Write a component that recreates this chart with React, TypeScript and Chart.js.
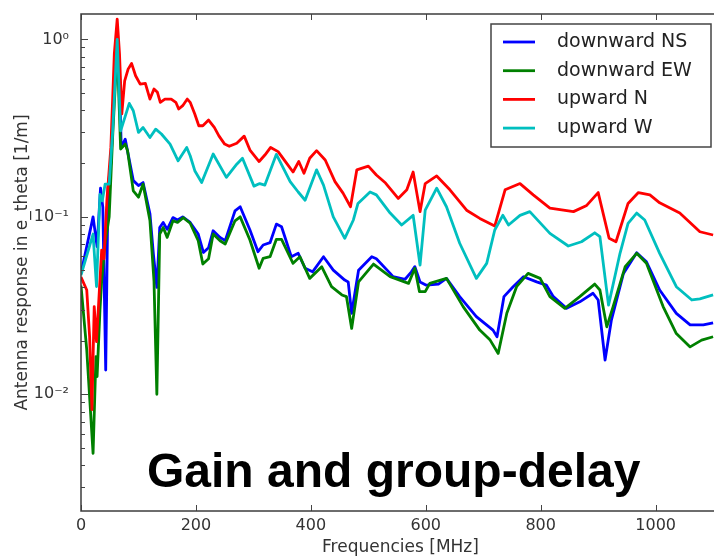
import { useEffect, useRef } from 'react';
import { Chart, registerables } from 'chart.js';

Chart.register(...registerables);

// ---------- data (frequency in MHz, response in 1/m) ----------
const nsFreq = [0, 21, 28, 34, 38, 43, 47, 52, 57, 63, 67, 70, 77, 82, 91, 100, 108, 120, 126, 132, 137, 143, 150, 160, 168, 177, 190, 204, 213, 222, 230, 242, 251, 268, 277, 294, 308, 317, 329, 340, 349, 366, 378, 390, 403, 422, 439, 459, 465, 471, 483, 506, 514, 538, 543, 564, 575, 581, 590, 601, 622, 636, 659, 688, 717, 724, 736, 752, 770, 793, 810, 822, 845, 868, 891, 900, 912, 923, 944, 967, 984, 1007, 1036, 1060, 1083, 1100];
const nsVal = [0.048, 0.1, 0.068, 0.145, 0.113, 0.0137, 0.146, 0.2, 0.45, 0.94, 0.6, 0.246, 0.274, 0.226, 0.16, 0.15, 0.156, 0.104, 0.0617, 0.04, 0.087, 0.093, 0.085, 0.099, 0.096, 0.1, 0.093, 0.08, 0.063, 0.067, 0.0835, 0.0766, 0.0735, 0.108, 0.114, 0.0843, 0.0636, 0.0694, 0.0715, 0.091, 0.088, 0.0596, 0.0623, 0.0513, 0.049, 0.0596, 0.0501, 0.044, 0.043, 0.0286, 0.05, 0.0596, 0.058, 0.048, 0.046, 0.0445, 0.049, 0.0524, 0.043, 0.0412, 0.0418, 0.045, 0.0355, 0.0274, 0.023, 0.0211, 0.0355, 0.0404, 0.046, 0.043, 0.0412, 0.0355, 0.0305, 0.0332, 0.0371, 0.034, 0.0156, 0.0262, 0.048, 0.0628, 0.0558, 0.0387, 0.0286, 0.0246, 0.0246, 0.0253];

const ewFreq = [0, 10, 21, 26, 28, 33, 36, 42, 49, 55, 63, 69, 77, 81, 91, 100, 108, 120, 127, 132, 137, 143, 150, 160, 168, 178, 190, 204, 212, 222, 230, 242, 251, 268, 277, 294, 310, 317, 329, 340, 349, 369, 381, 398, 419, 436, 454, 462, 471, 483, 509, 538, 570, 581, 589, 599, 607, 636, 665, 694, 712, 726, 741, 758, 778, 799, 816, 842, 868, 894, 903, 915, 926, 947, 967, 984, 1013, 1036, 1060, 1080, 1100];
const ewVal = [0.041, 0.0178, 0.00465, 0.0163, 0.0126, 0.0298, 0.0437, 0.071, 0.1, 0.28, 0.9, 0.241, 0.257, 0.236, 0.14, 0.129, 0.153, 0.095, 0.0436, 0.01, 0.08, 0.087, 0.0766, 0.095, 0.093, 0.099, 0.092, 0.0733, 0.0542, 0.058, 0.08, 0.0733, 0.0703, 0.095, 0.1, 0.074, 0.0513, 0.0584, 0.0596, 0.0747, 0.0747, 0.0547, 0.0596, 0.045, 0.0523, 0.0404, 0.0363, 0.0355, 0.0235, 0.043, 0.0542, 0.046, 0.0422, 0.0513, 0.0379, 0.0379, 0.0422, 0.045, 0.0312, 0.023, 0.0202, 0.017, 0.0286, 0.0404, 0.048, 0.045, 0.0355, 0.0305, 0.0355, 0.0418, 0.0387, 0.024, 0.0312, 0.0524, 0.0623, 0.0547, 0.0312, 0.022, 0.0185, 0.0202, 0.0211];

const nFreq = [0, 10, 15, 19, 23, 27, 32, 36, 40, 45, 52, 58, 63, 67, 71, 76, 82, 88, 95, 103, 112, 120, 127, 133, 138, 146, 157, 165, 170, 177, 185, 190, 198, 205, 212, 222, 232, 240, 250, 258, 271, 284, 294, 310, 320, 330, 343, 358, 369, 379, 388, 398, 410, 425, 442, 456, 469, 480, 500, 514, 530, 552, 567, 578, 590, 599, 619, 642, 671, 694, 720, 738, 764, 787, 816, 857, 880, 900, 919, 931, 952, 970, 990, 1007, 1042, 1077, 1100];
const nVal = [0.0458, 0.0387, 0.0211, 0.0082, 0.0312, 0.0198, 0.0387, 0.065, 0.058, 0.123, 0.247, 0.83, 1.3, 0.83, 0.38, 0.584, 0.68, 0.732, 0.624, 0.56, 0.565, 0.461, 0.525, 0.503, 0.442, 0.461, 0.461, 0.442, 0.405, 0.423, 0.461, 0.442, 0.38, 0.326, 0.326, 0.351, 0.319, 0.286, 0.257, 0.25, 0.26, 0.285, 0.238, 0.205, 0.223, 0.246, 0.233, 0.2, 0.179, 0.205, 0.176, 0.214, 0.236, 0.209, 0.158, 0.136, 0.114, 0.184, 0.193, 0.172, 0.155, 0.127, 0.142, 0.179, 0.107, 0.154, 0.17, 0.142, 0.109, 0.098, 0.0887, 0.142, 0.154, 0.133, 0.112, 0.107, 0.116, 0.137, 0.0757, 0.0724, 0.119, 0.137, 0.133, 0.12, 0.105, 0.0824, 0.079];

const wFreq = [0, 21, 27, 33, 37, 42, 49, 55, 63, 69, 84, 91, 100, 108, 120, 130, 140, 155, 169, 184, 190, 198, 210, 230, 253, 271, 281, 301, 311, 320, 340, 364, 378, 390, 410, 422, 439, 459, 474, 482, 503, 514, 538, 558, 578, 590, 599, 619, 636, 659, 688, 706, 720, 734, 744, 764, 781, 816, 848, 871, 894, 903, 918, 938, 952, 967, 981, 1007, 1036, 1063, 1077, 1100];
const wVal = [0.047, 0.08, 0.0405, 0.134, 0.123, 0.153, 0.153, 0.3, 1.0, 0.305, 0.436, 0.396, 0.299, 0.319, 0.28, 0.312, 0.293, 0.257, 0.207, 0.246, 0.221, 0.182, 0.156, 0.226, 0.167, 0.198, 0.214, 0.149, 0.154, 0.151, 0.225, 0.158, 0.138, 0.124, 0.184, 0.151, 0.1, 0.0757, 0.096, 0.119, 0.138, 0.133, 0.105, 0.0899, 0.102, 0.0535, 0.109, 0.145, 0.114, 0.071, 0.045, 0.0547, 0.0843, 0.102, 0.09, 0.102, 0.107, 0.0807, 0.0685, 0.0724, 0.0813, 0.0773, 0.0318, 0.0623, 0.0919, 0.105, 0.096, 0.0623, 0.0404, 0.034, 0.0345, 0.0363];

const seriesNames = ['downward NS', 'downward EW', 'upward N', 'upward W'];
const seriesColors = ['#0000ff', '#008000', '#ff0000', '#00bfbf'];
const xTicks = [0, 200, 400, 600, 800, 1000];
const xTickLabels = ['0', '200', '400', '600', '800', '1000'];
const yTicks = [0.01, 0.1, 1];
const yTickLabels = ['10\u207B\u00B2', '10\u207B\u00B9', '10\u2070'];
const xTitle = 'Frequencies [MHz]';
const yTitle = 'Antenna response in e_theta [1/m]';
const overlayTitle = 'Gain and group-delay';

const FONT = '"DejaVu Sans", "Bitstream Vera Sans", sans-serif';

const toPoints = (xs: number[], ys: number[]) => xs.map((x, i) => ({ x, y: ys[i] }));

const zeroPad = (s: any) => {
  s.paddingTop = 0;
  s.paddingBottom = 0;
  s.paddingLeft = 0;
  s.paddingRight = 0;
};

const framePlugin = {
  id: 'frame',
  afterDatasetsDraw(chart: any) {
    const { ctx, chartArea: a, scales } = chart;
    const x = scales.x;
    const y = scales.y;
    ctx.save();
    ctx.strokeStyle = '#444';
    ctx.lineWidth = 1;
    const line = (x1: number, y1: number, x2: number, y2: number) => {
      ctx.beginPath();
      ctx.moveTo(x1, y1);
      ctx.lineTo(x2, y2);
      ctx.stroke();
    };
    for (const v of xTicks) {
      const px = Math.round(x.getPixelForValue(v)) + 0.5;
      line(px, a.bottom, px, a.bottom - 6);
      line(px, a.top, px, a.top + 6);
    }
    for (let e = -3; e <= 0; e++) {
      for (let m = 1; m <= 9; m++) {
        const v = m * Math.pow(10, e);
        if (v < y.min || v > y.max) continue;
        const py = Math.round(y.getPixelForValue(v)) + 0.5;
        const len = m === 1 ? 7 : 4;
        line(a.left, py, a.left + len, py);
      }
    }
    ctx.lineWidth = 1.5;
    ctx.strokeStyle = '#3c3c3c';
    ctx.strokeRect(a.left, a.top, a.right - a.left, a.bottom - a.top);
    ctx.restore();
  },
  afterDraw(chart: any) {
    const { ctx } = chart;
    ctx.save();
    // legend
    const bx = 491, by = 24, bw = 220, bh = 123;
    ctx.fillStyle = '#ffffff';
    ctx.fillRect(bx, by, bw, bh);
    ctx.strokeStyle = '#444';
    ctx.lineWidth = 1.5;
    ctx.strokeRect(bx, by, bw, bh);
    ctx.font = `19px ${FONT}`;
    ctx.textBaseline = 'middle';
    ctx.textAlign = 'left';
    chart.data.datasets.forEach((ds: any, i: number) => {
      const ry = by + 18 + i * 28.7;
      ctx.strokeStyle = ds.borderColor;
      ctx.lineWidth = 2.8;
      ctx.beginPath();
      ctx.moveTo(bx + 12, ry);
      ctx.lineTo(bx + 44, ry);
      ctx.stroke();
      ctx.fillStyle = '#222';
      ctx.fillText(ds.label, bx + 66, ry);
    });
    // overlay title
    ctx.fillStyle = '#000';
    ctx.font = `bold 48px "Liberation Sans", Arial, sans-serif`;
    ctx.textBaseline = 'alphabetic';
    ctx.fillText(overlayTitle, 147, 487);
    ctx.restore();
  },
};

export default function App() {
  const ref = useRef<HTMLCanvasElement | null>(null);
  useEffect(() => {
    if (!ref.current) return;
    const sets = [
      toPoints(nsFreq, nsVal),
      toPoints(ewFreq, ewVal),
      toPoints(nFreq, nVal),
      toPoints(wFreq, wVal),
    ];
    const chart = new Chart(ref.current, {
      type: 'line',
      data: {
        datasets: sets.map((d, i) => ({
          label: seriesNames[i],
          data: d,
          borderColor: seriesColors[i],
          backgroundColor: seriesColors[i],
          borderWidth: 2.8,
          borderJoinStyle: 'round',
          pointRadius: 0,
          tension: 0,
          fill: false,
          order: 4 - i,
        })),
      },
      options: {
        animation: false,
        responsive: false,
        maintainAspectRatio: false,
        devicePixelRatio: 1,
        layout: { padding: { top: 14, left: 0, right: 0, bottom: 0 } },
        plugins: { legend: { display: false }, tooltip: { enabled: false } },
        scales: {
          x: {
            type: 'linear',
            min: 0,
            max: 1112,
            afterBuildTicks: (s: any) => {
              s.ticks = xTicks.map((v) => ({ value: v }));
            },
            afterFit: (s: any) => {
              s.height = 49;
              zeroPad(s);
            },
            grid: { display: false, drawTicks: false },
            border: { display: false },
            ticks: {
              padding: 5,
              autoSkip: false,
              maxRotation: 0,
              color: '#333',
              font: { family: FONT, size: 16 },
              callback: (_v: any, i: number) => xTickLabels[i],
            },
            title: {
              display: true,
              text: xTitle,
              color: '#333',
              font: { family: FONT, size: 17 },
              padding: { top: 0, bottom: 2 },
            },
          },
          y: {
            type: 'logarithmic',
            min: 0.0022,
            max: 1.39,
            afterBuildTicks: (s: any) => {
              s.ticks = yTicks.map((v) => ({ value: v }));
            },
            afterFit: (s: any) => {
              s.width = 81;
              zeroPad(s);
            },
            grid: { display: false, drawTicks: false },
            border: { display: false },
            ticks: {
              padding: 12,
              autoSkip: false,
              color: '#333',
              font: { family: FONT, size: 16 },
              callback: (_v: any, i: number) => yTickLabels[i],
            },
            title: {
              display: true,
              text: yTitle,
              color: '#333',
              font: { family: FONT, size: 17 },
              padding: { top: 12, bottom: 0 },
            },
          },
        },
      },
      plugins: [framePlugin],
    });
    return () => chart.destroy();
  }, []);

  return (
    <div
      style={{
        position: 'fixed',
        left: 0,
        top: 0,
        width: 714,
        height: 560,
        overflow: 'hidden',
        background: '#fff',
      }}
    >
      <canvas ref={ref} width={720} height={560} style={{ display: 'block', width: 720, height: 560 }} />
    </div>
  );
}
